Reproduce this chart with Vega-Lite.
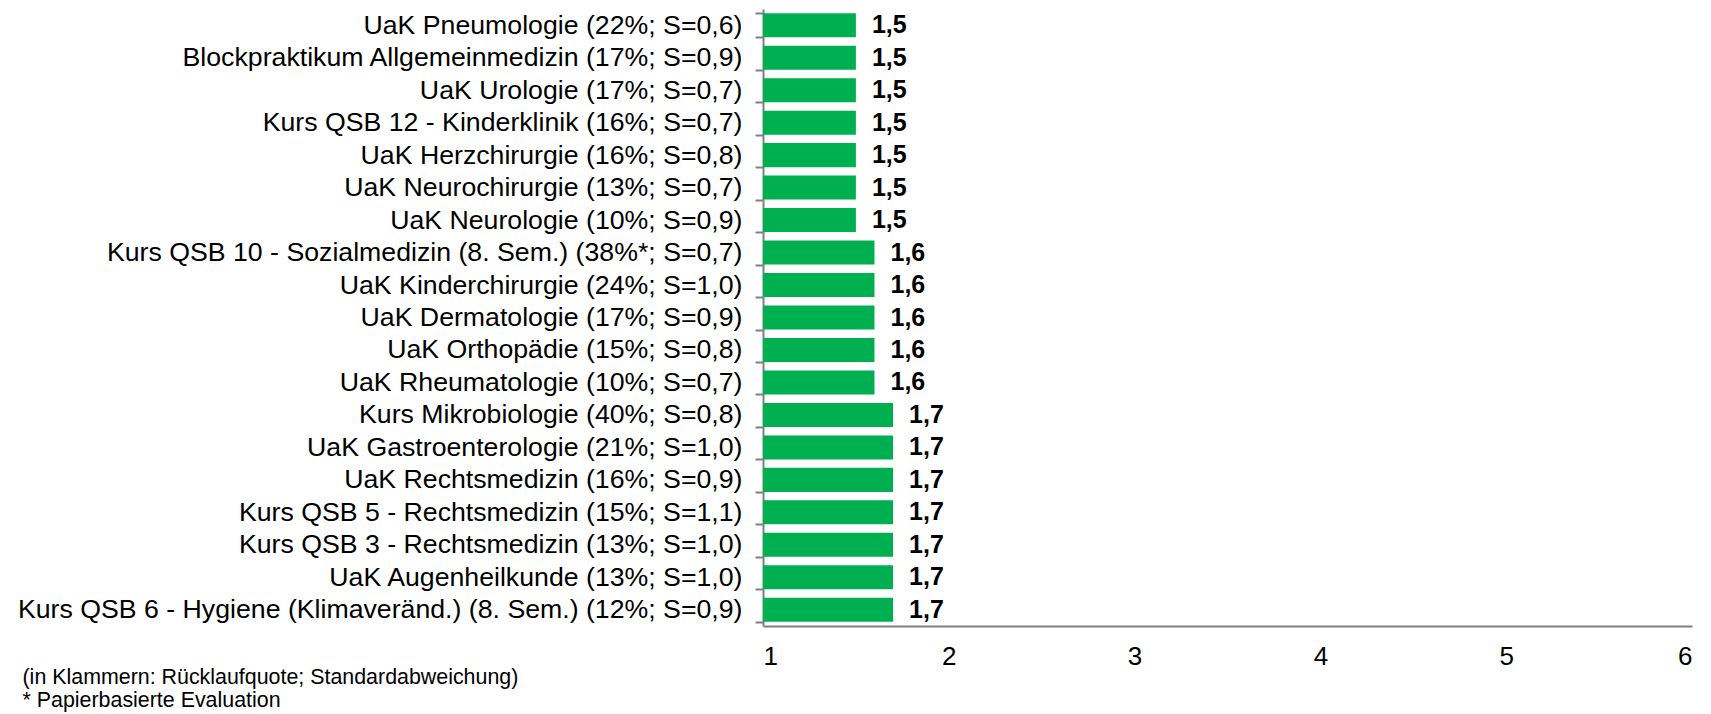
{
  "$schema": "https://vega.github.io/schema/vega-lite/v6.json",
  "width": 929,
  "height": 617,
  "autosize": {"type": "none"},
  "padding": {"left": 763, "top": 9, "right": 19, "bottom": 88},
  "background": "white",
  "config": {
    "font": "Liberation Sans",
    "view": {"stroke": null},
    "locale": {"number": {"decimal": ",", "thousands": ".", "grouping": [3], "currency": ["", " €"]}}
  },
  "data": {"values": [
    {"label": "UaK Pneumologie (22%; S=0,6)", "value": 1.5},
    {"label": "Blockpraktikum Allgemeinmedizin (17%; S=0,9)", "value": 1.5},
    {"label": "UaK Urologie (17%; S=0,7)", "value": 1.5},
    {"label": "Kurs QSB 12 - Kinderklinik (16%; S=0,7)", "value": 1.5},
    {"label": "UaK Herzchirurgie (16%; S=0,8)", "value": 1.5},
    {"label": "UaK Neurochirurgie (13%; S=0,7)", "value": 1.5},
    {"label": "UaK Neurologie (10%; S=0,9)", "value": 1.5},
    {"label": "Kurs QSB 10 - Sozialmedizin (8. Sem.) (38%*; S=0,7)", "value": 1.6},
    {"label": "UaK Kinderchirurgie (24%; S=1,0)", "value": 1.6},
    {"label": "UaK Dermatologie (17%; S=0,9)", "value": 1.6},
    {"label": "UaK Orthopädie (15%; S=0,8)", "value": 1.6},
    {"label": "UaK Rheumatologie (10%; S=0,7)", "value": 1.6},
    {"label": "Kurs Mikrobiologie (40%; S=0,8)", "value": 1.7},
    {"label": "UaK Gastroenterologie (21%; S=1,0)", "value": 1.7},
    {"label": "UaK Rechtsmedizin (16%; S=0,9)", "value": 1.7},
    {"label": "Kurs QSB 5 - Rechtsmedizin (15%; S=1,1)", "value": 1.7},
    {"label": "Kurs QSB 3 - Rechtsmedizin (13%; S=1,0)", "value": 1.7},
    {"label": "UaK Augenheilkunde (13%; S=1,0)", "value": 1.7},
    {"label": "Kurs QSB 6 - Hygiene (Klimaveränd.) (8. Sem.) (12%; S=0,9)", "value": 1.7}
  ]},
  "encoding": {
    "y": {
      "field": "label", "type": "nominal", "sort": null,
      "scale": {"paddingInner": 0.26, "paddingOuter": 0.13},
      "axis": {
        "title": null,
        "domainColor": "#808080", "domainWidth": 2,
        "tickColor": "#808080", "tickWidth": 2, "tickSize": 8,
        "bandPosition": 0, "tickBand": "extent",
        "labelFontSize": 26.7, "labelColor": "black", "labelPadding": 13,
        "labelLimit": 0
      }
    }
  },
  "layer": [
    {
      "mark": {"type": "bar", "color": "#00B050"},
      "encoding": {
        "x": {
          "field": "value", "type": "quantitative",
          "scale": {"domain": [1, 6], "nice": false, "zero": false},
          "axis": {
            "values": [1, 2, 3, 4, 5, 6], "format": "d",
            "grid": false, "ticks": false,
            "domainColor": "#808080", "domainWidth": 2,
            "labelFontSize": 26, "labelColor": "black", "labelPadding": 17,
            "title": ["(in Klammern: Rücklaufquote; Standardabweichung)", "* Papierbasierte Evaluation"],
            "titleFontSize": 21.4, "titleFontWeight": "normal", "titleColor": "black",
            "titleAlign": "left", "titleAnchor": "start", "titleBaseline": "top",
            "titleX": -741, "titleY": 40, "titleLineHeight": 23
          }
        },
        "x2": {"datum": 1}
      }
    },
    {
      "mark": {"type": "text", "align": "left", "baseline": "middle", "dx": 16, "fontSize": 25, "fontWeight": "bold", "color": "black"},
      "encoding": {
        "x": {"field": "value", "type": "quantitative"},
        "text": {"field": "value", "type": "quantitative", "format": ".1f"}
      }
    }
  ]
}
